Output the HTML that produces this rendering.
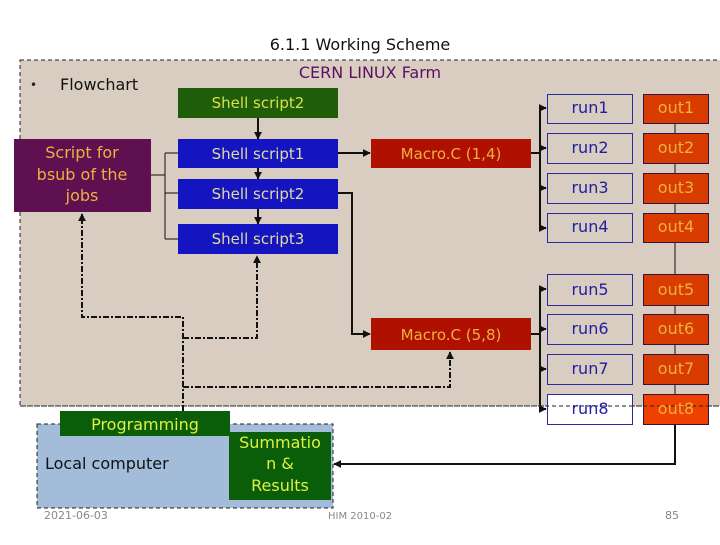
<!DOCTYPE html>
<html><head><meta charset="utf-8"><style>
body{margin:0;background:#fff;}
svg text{font-family:"DejaVu Sans","Liberation Sans",sans-serif;}
</style></head><body>
<svg width="720" height="540" viewBox="0 0 720 540" xmlns="http://www.w3.org/2000/svg">
<defs>
<marker id="a" viewBox="0 0 10 10" refX="9" refY="5" markerWidth="4" markerHeight="4" orient="auto"><path d="M0,0L10,5L0,10z" fill="#111"/></marker>
</defs>
<rect width="720" height="540" fill="#fff"/>
<text x="360" y="50" font-size="16" text-anchor="middle" fill="#111">6.1.1 Working Scheme</text>
<rect x="20" y="60" width="705" height="346" fill="#d9ccc0" stroke="#222" stroke-dasharray="4,3"/>
<text x="30" y="89" font-size="12" fill="#222">•</text>
<text x="60" y="90" font-size="16" fill="#111">Flowchart</text>
<text x="370" y="78" font-size="16" text-anchor="middle" fill="#5a1060">CERN LINUX Farm</text>

<rect x="37" y="424" width="296" height="84" fill="#a3bcd9" stroke="#222" stroke-dasharray="4,3"/>
<text x="45" y="469" font-size="16" fill="#111">Local computer</text>

<g stroke="#111" stroke-width="2" fill="none">
<line x1="258" y1="118" x2="258" y2="224" marker-end="url(#a)"/>
<line x1="258" y1="118" x2="258" y2="139" marker-end="url(#a)"/>
<line x1="258" y1="150" x2="258" y2="179" marker-end="url(#a)"/>
<line x1="338" y1="153" x2="370" y2="153" marker-end="url(#a)"/>
<polyline points="338,193 352,193 352,334 370,334" marker-end="url(#a)"/>
<line x1="531" y1="153" x2="540" y2="153"/>
<line x1="540" y1="108" x2="540" y2="228"/>
<line x1="540" y1="108" x2="546" y2="108" marker-end="url(#a)"/>
<line x1="540" y1="148" x2="546" y2="148" marker-end="url(#a)"/>
<line x1="540" y1="188" x2="546" y2="188" marker-end="url(#a)"/>
<line x1="540" y1="228" x2="546" y2="228" marker-end="url(#a)"/>
<line x1="531" y1="334" x2="540" y2="334"/>
<line x1="540" y1="289" x2="540" y2="409"/>
<line x1="540" y1="289" x2="546" y2="289" marker-end="url(#a)"/>
<line x1="540" y1="329" x2="546" y2="329" marker-end="url(#a)"/>
<line x1="540" y1="369" x2="546" y2="369" marker-end="url(#a)"/>
<line x1="540" y1="409" x2="546" y2="409" marker-end="url(#a)"/>
<polyline points="675,424 675,464 334,464" marker-end="url(#a)"/>
</g>
<g stroke="#111" stroke-width="1" fill="none">
<polyline points="151,175 165,175"/>
<line x1="165" y1="153" x2="165" y2="239"/>
<line x1="165" y1="153" x2="178" y2="153"/>
<line x1="165" y1="193" x2="178" y2="193"/>
<line x1="165" y1="239" x2="178" y2="239"/>
<line x1="675" y1="108" x2="675" y2="424"/>
</g>
<g stroke="#111" stroke-width="2" fill="none" stroke-dasharray="6,2,2,2">
<polyline points="183,411 183,317 82,317 82,214" marker-end="url(#a)"/>
<polyline points="183,338 257,338 257,256" marker-end="url(#a)"/>
<polyline points="183,387 450,387 450,352" marker-end="url(#a)"/>
</g>

<rect x="178" y="88" width="160" height="30" fill="#1f5d0b"/>
<text x="258" y="108" font-size="15" text-anchor="middle" fill="#d8e04a">Shell script2</text>
<rect x="14" y="139" width="137" height="73" fill="#5e1050"/>
<g font-size="16" text-anchor="middle" fill="#f0b040">
<text x="82" y="158">Script for</text><text x="82" y="180">bsub of the</text><text x="82" y="201">jobs</text>
</g>
<g fill="#1414c0">
<rect x="178" y="139" width="160" height="29"/><rect x="178" y="179" width="160" height="30"/><rect x="178" y="224" width="160" height="30"/>
</g>
<g font-size="15" text-anchor="middle" fill="#e0dca0">
<text x="258" y="159">Shell script1</text><text x="258" y="199">Shell script2</text><text x="258" y="244">Shell script3</text>
</g>
<rect x="371" y="139" width="160" height="29" fill="#b01000"/>
<rect x="371" y="318" width="160" height="32" fill="#b01000"/>
<g font-size="15" text-anchor="middle" fill="#f0b040">
<text x="451" y="159">Macro.C (1,4)</text><text x="451" y="340">Macro.C (5,8)</text>
</g>
<g stroke="#2a2aa0" stroke-width="1">
<rect x="547.5" y="94.5" width="85" height="29" fill="#d9ccc0"/>
<rect x="547.5" y="133.5" width="85" height="30" fill="#d9ccc0"/>
<rect x="547.5" y="173.5" width="85" height="30" fill="#d9ccc0"/>
<rect x="547.5" y="213.5" width="85" height="29" fill="#d9ccc0"/>
<rect x="547.5" y="274.5" width="85" height="31" fill="#d9ccc0"/>
<rect x="547.5" y="314.5" width="85" height="30" fill="#d9ccc0"/>
<rect x="547.5" y="354.5" width="85" height="30" fill="#d9ccc0"/>
<rect x="547.5" y="394.5" width="85" height="30" fill="#fff"/>
</g>
<g stroke="#3a1040" stroke-width="1" fill="#d83c00">
<rect x="643.5" y="94.5" width="65" height="29"/><rect x="643.5" y="133.5" width="65" height="30"/>
<rect x="643.5" y="173.5" width="65" height="30"/><rect x="643.5" y="213.5" width="65" height="29"/>
<rect x="643.5" y="274.5" width="65" height="31"/><rect x="643.5" y="314.5" width="65" height="30"/>
<rect x="643.5" y="354.5" width="65" height="30"/><rect x="643.5" y="394.5" width="65" height="30" fill="#f04000"/>
</g>
<line x1="20" y1="406" x2="720" y2="406" stroke="#222" stroke-dasharray="4,3"/>
<g font-size="16" text-anchor="middle" fill="#2020a0">
<text x="590" y="113">run1</text><text x="590" y="153">run2</text><text x="590" y="193">run3</text><text x="590" y="232">run4</text>
<text x="590" y="295">run5</text><text x="590" y="334">run6</text><text x="590" y="374">run7</text><text x="590" y="414">run8</text>
</g>
<g font-size="16" text-anchor="middle" fill="#f0b040">
<text x="676" y="113">out1</text><text x="676" y="153">out2</text><text x="676" y="193">out3</text><text x="676" y="232">out4</text>
<text x="676" y="295">out5</text><text x="676" y="334">out6</text><text x="676" y="374">out7</text><text x="676" y="414">out8</text>
</g>

<rect x="60" y="411" width="170" height="25" fill="#0a5e0a"/>
<text x="145" y="430" font-size="16" text-anchor="middle" fill="#e0f040">Programming</text>
<rect x="229" y="432" width="102" height="68" fill="#0a5e0a"/>
<g font-size="16" text-anchor="middle" fill="#e0f040">
<text x="280" y="448">Summatio</text><text x="280" y="469">n &amp;</text><text x="280" y="491">Results</text>
</g>
<text x="44" y="519" font-size="11" fill="#888">2021-06-03</text>
<text x="328" y="519" font-size="10" fill="#888">HIM 2010-02</text>
<text x="665" y="519" font-size="11" fill="#888">85</text>
</svg>
</body></html>
